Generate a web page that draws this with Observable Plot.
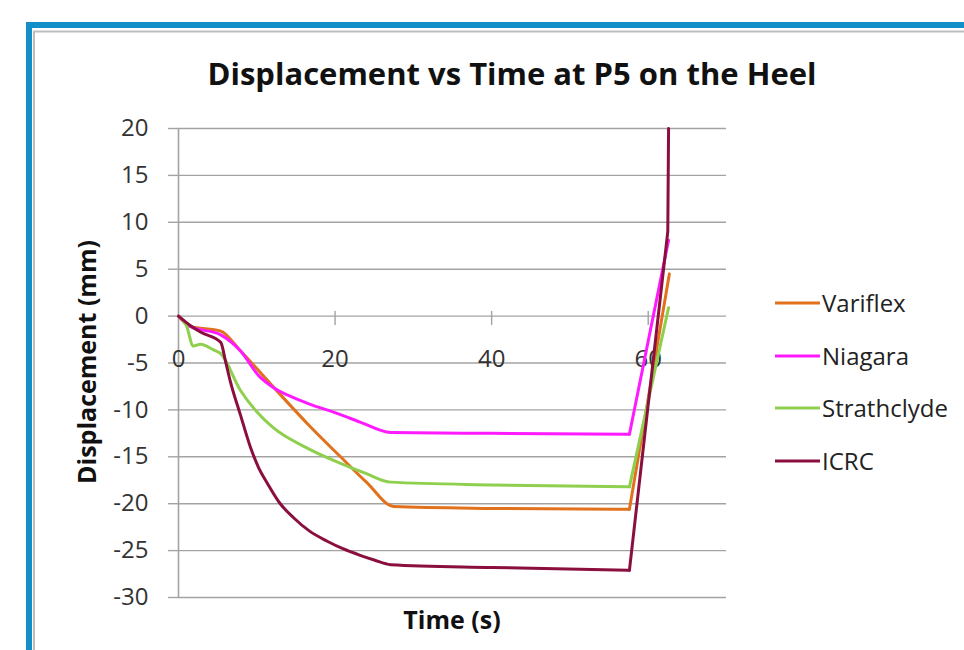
<!DOCTYPE html>
<html>
<head>
<meta charset="utf-8">
<script src="https://cdn.jsdelivr.net/npm/d3@7"></script>
<script src="https://cdn.jsdelivr.net/npm/@observablehq/plot@0.6"></script>
<style>
  html, body { margin: 0; padding: 0; background: #fff; }
  #chart { position: relative; width: 964px; height: 650px; overflow: hidden; }
</style>
</head>
<body>
<div id="chart"></div>
<script>
// ---- data ----
const seriesNames = ["Variflex", "Niagara", "Strathclyde", "ICRC"];
const seriesColors = ["#E2711D", "#FF1AFF", "#8FCF4E", "#8A0F3F"];

const variflexT = [0, 1.5, 5.4, 7.9, 12.6, 16.5, 20.7, 24.0, 27.5, 40, 57.6, 62.7];
const variflexD = [0, -1.1, -1.6, -3.7, -8.0, -11.5, -15.0, -17.7, -20.3, -20.5, -20.6, 4.5];

const niagaraT = [0, 1.5, 5.4, 7.9, 10.3, 12.1, 14.7, 16.5, 20.7, 23.2, 27.1, 40, 57.6, 62.6];
const niagaraD = [0, -1.1, -2.0, -3.7, -6.4, -7.6, -8.7, -9.3, -10.5, -11.3, -12.4, -12.5, -12.6, 8.1];

const strathT = [0, 1.0, 1.9, 2.8, 4.5, 5.4, 7.9, 10.0, 12.1, 16.5, 20.7, 24.0, 27.1, 40, 57.6, 62.6];
const strathD = [0, -1.0, -3.2, -3.0, -3.6, -4.0, -7.9, -10.2, -11.9, -14.1, -15.7, -16.8, -17.7, -18.0, -18.2, 0.9];

const icrcT = [0, 1.5, 2.8, 5.4, 6.0, 6.6, 7.9, 9.2, 10.2, 11.4, 12.9, 14.7, 16.7, 19.0, 21.0, 23.2, 25.0, 27.1, 40, 57.6, 62.5, 62.6];
const icrcD = [0, -1.0, -1.7, -2.8, -4.8, -6.9, -10.5, -14.0, -16.1, -17.9, -19.9, -21.5, -22.9, -24.0, -24.8, -25.5, -26.0, -26.5, -26.8, -27.1, 9.0, 20];

const xTicks = [0, 20, 40, 60];
const yTicks = [20, 15, 10, 5, 0, -5, -10, -15, -20, -25, -30];
const riseStart = 57.6; // where every series turns sharply upward

const seriesT = [variflexT, niagaraT, strathT, icrcT];
const seriesD = [variflexD, niagaraD, strathD, icrcD];

const rows = [];
seriesNames.forEach((name, i) => {
  seriesT[i].forEach((t, j) => rows.push({series: name, t, d: seriesD[i][j]}));
});
const loadRows = rows.filter(r => r.t <= riseStart);
const riseRows = rows.filter(r => r.t >= riseStart);

const FONT = "'Open Sans', 'DejaVu Sans', sans-serif";
const GRID = "#a3a3a3";

const plot = Plot.plot({
  width: 964,
  height: 650,
  marginLeft: 178,
  marginRight: 238,
  marginTop: 128,
  marginBottom: 53,
  style: {fontFamily: FONT, background: "#fff", overflow: "visible"},
  x: {domain: [0, 70], axis: null},
  y: {domain: [-30, 20], axis: null},
  color: {domain: seriesNames, range: seriesColors},
  marks: [
    Plot.gridY(yTicks, {stroke: GRID, strokeOpacity: 1, strokeWidth: 1.4}),
    Plot.ruleX([0], {stroke: GRID, strokeWidth: 1.6}),
    Plot.axisY(yTicks, {
      tickSize: 10, tickPadding: 20, fontSize: 24, stroke: GRID, strokeWidth: 1.4,
      fill: "#333", label: null, fontFamily: FONT, tickFormat: d => String(d)
    }),
    Plot.ruleX(xTicks.slice(1), {y1: 0.5, y2: -1.0, stroke: GRID, strokeWidth: 1.4}),
    Plot.text(xTicks, {x: d => d, y: 0, dy: 43, text: d => String(d), fontSize: 24, fill: "#333", fontFamily: FONT}),
    Plot.line(loadRows, {x: "t", y: "d", z: "series", stroke: "series", strokeWidth: 3, curve: "monotone-x"}),
    Plot.line(riseRows, {x: "t", y: "d", z: "series", stroke: "series", strokeWidth: 3, curve: "linear"})
  ]
});

document.getElementById("chart").appendChild(plot);

const svg = d3.select(plot);

// frame border (blue with light grey inner line)
svg.insert("rect", ":first-child")
  .attr("x", 29).attr("y", 25).attr("width", 1000).attr("height", 700)
  .attr("fill", "none").attr("stroke", "#1390C8").attr("stroke-width", 6);
svg.insert("rect", ":first-child")
  .attr("x", 34).attr("y", 31.5).attr("width", 1000).attr("height", 700)
  .attr("fill", "none").attr("stroke", "#bdbdbd").attr("stroke-width", 2);

// title
svg.append("text")
  .attr("x", 512).attr("y", 85).attr("text-anchor", "middle")
  .attr("font-family", FONT).attr("font-weight", "bold").attr("font-size", 31)
  .attr("fill", "#111")
  .text("Displacement vs Time at P5 on the Heel");

// y label
svg.append("text")
  .attr("transform", "translate(96,362) rotate(-90)")
  .attr("text-anchor", "middle")
  .attr("font-family", FONT).attr("font-weight", "bold").attr("font-size", 25)
  .attr("fill", "#111")
  .text("Displacement (mm)");

// x label
svg.append("text")
  .attr("x", 452).attr("y", 629).attr("text-anchor", "middle")
  .attr("font-family", FONT).attr("font-weight", "bold").attr("font-size", 25)
  .attr("fill", "#111")
  .text("Time (s)");

// legend
const legendY = [303, 356, 408, 461];
seriesNames.forEach((name, i) => {
  svg.append("line")
    .attr("x1", 775).attr("x2", 820).attr("y1", legendY[i]).attr("y2", legendY[i])
    .attr("stroke", seriesColors[i]).attr("stroke-width", 3);
  svg.append("text")
    .attr("x", 822).attr("y", legendY[i] + 9)
    .attr("text-anchor", "start")
    .attr("font-family", FONT).attr("font-size", 24).attr("fill", "#222")
    .text(name);
});
</script>
</body>
</html>
